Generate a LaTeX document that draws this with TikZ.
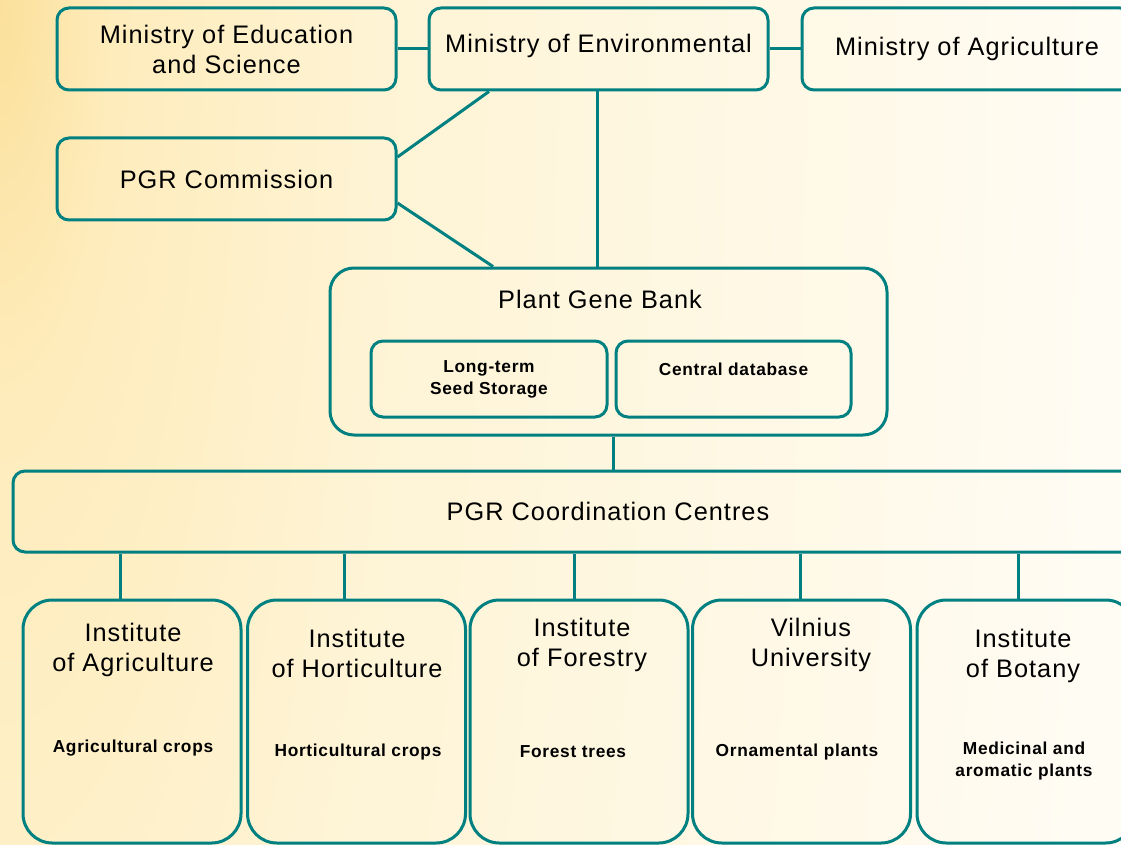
\documentclass[tikz,border=0pt]{standalone}
\usepackage{fontspec}
\setmainfont{Liberation Sans}[LetterSpace=4.0]
\usetikzlibrary{calc}
\definecolor{pgrteal}{RGB}{0,128,128}
\definecolor{bgin}{RGB}{251,224,155}
\definecolor{bgnear}{RGB}{254,236,188}
\definecolor{bgmid}{RGB}{254,244,214}
\definecolor{bgout}{RGB}{255,252,244}
\pgfdeclareradialshading{pgrbg}{\pgfpoint{0bp}{0bp}}{color(0bp)=(bgin); color(2.5bp)=(bgnear); color(9bp)=(bgmid); color(25bp)=(bgout); color(50bp)=(bgout)}
\begin{document}
\begin{tikzpicture}[x=0.75pt,y=-0.75pt,
  box/.style={draw=pgrteal, line width=2.25pt, rounded corners=9pt, minimum width=254.25pt, minimum height=61.5pt, align=center, font=\fontsize{19}{22.5}\selectfont},
  inbox/.style={box, minimum width=177pt, minimum height=57pt, font=\bfseries\fontsize{13}{16.5}\selectfont},
  instbox/.style={box, rounded corners=22pt, minimum width=163.5pt, minimum height=182.25pt},
  big/.style={align=center, font=\fontsize{19}{22.5}\selectfont},
  small/.style={align=center, font=\bfseries\fontsize{13}{16.5}\selectfont},
  link/.style={draw=pgrteal, line width=2.25pt}]
\clip (0,0) rectangle (1121,845);
\useasboundingbox (0,0) rectangle (1121,845);
\shade[shading=pgrbg] (-1121,-4000) rectangle (1121,4000);

% ministries
\node[box] (1) at (226.5,49) {Ministry of Education\\and Science};
\node[box, text depth=9pt] (2) at (598.5,49) {Ministry of Environmental};
\node[box, minimum width=247.5pt] (3) at (967,49) {Ministry of Agriculture};
\node[box] (4) at (226.5,179) {PGR Commission};

% gene bank
\node[box, rounded corners=18pt, minimum width=417.75pt, minimum height=125.25pt] (5) at (608.5,351.5) {};
\node[big] (5t) at (600,299) {Plant Gene Bank};
\node[inbox] (6) at (489,379) {Long-term\\Seed Storage};
\node[inbox, minimum width=176.25pt, text depth=15pt] (7) at (733.5,379) {Central database};

\node[box, minimum width=892.5pt, minimum height=60.75pt] (8) at (608,511.5) {PGR Coordination Centres};

% institutes
\node[instbox] (9) at (132,721.5) {};
\node[instbox] (10) at (356.5,721.5) {};
\node[instbox] (11) at (579,721.5) {};
\node[instbox] (12) at (801.5,721.5) {};
\node[instbox] (13) at (1026,721.5) {};
\node[big] (9t) at (133,650) {Institute\\of Agriculture};
\node[big] (10t) at (357,653) {Institute\\of Horticulture};
\node[big] (11t) at (582,645) {Institute\\of Forestry};
\node[big] (12t) at (811,645) {Vilnius\\University};
\node[big] (13t) at (1023,656) {Institute\\of Botany};
\node[small] (9s) at (133,748) {Agricultural crops};
\node[small] (10s) at (358,752) {Horticultural crops};
\node[small] (11s) at (573,752) {Forest trees};
\node[small] (12s) at (797,752) {Ornamental plants};
\node[small] (13s) at (1024,761) {Medicinal and\\aromatic plants};

\path[link] (1) -- (2);
\path[link] (2) -- (3);
\path[link] ($(2.south)+(-109.5,0)$) -- ($(4.east)+(0,-22)$);
\path[link] ($(4.east)+(0,24)$) -- ($(5.north)+(-115.5,0)$);
\path[link] ($(2.south)+(-1.5,0)$) -- ($(5.north)+(-11.5,0)$);
\path[link] ($(5.south)+(4.5,0)$) -- ($(8.north)+(5,0)$);
\path[link] ($(9.north)+(-12,0)$) -- ($(9.north |- 8.south)+(-12,0)$);
\path[link] ($(10.north)+(-12.5,0)$) -- ($(10.north |- 8.south)+(-12.5,0)$);
\path[link] ($(11.north)+(-5,0)$) -- ($(11.north |- 8.south)+(-5,0)$);
\path[link] ($(12.north)+(-1.5,0)$) -- ($(12.north |- 8.south)+(-1.5,0)$);
\path[link] ($(13.north)+(-8,0)$) -- ($(13.north |- 8.south)+(-8,0)$);
\end{tikzpicture}
\end{document}
